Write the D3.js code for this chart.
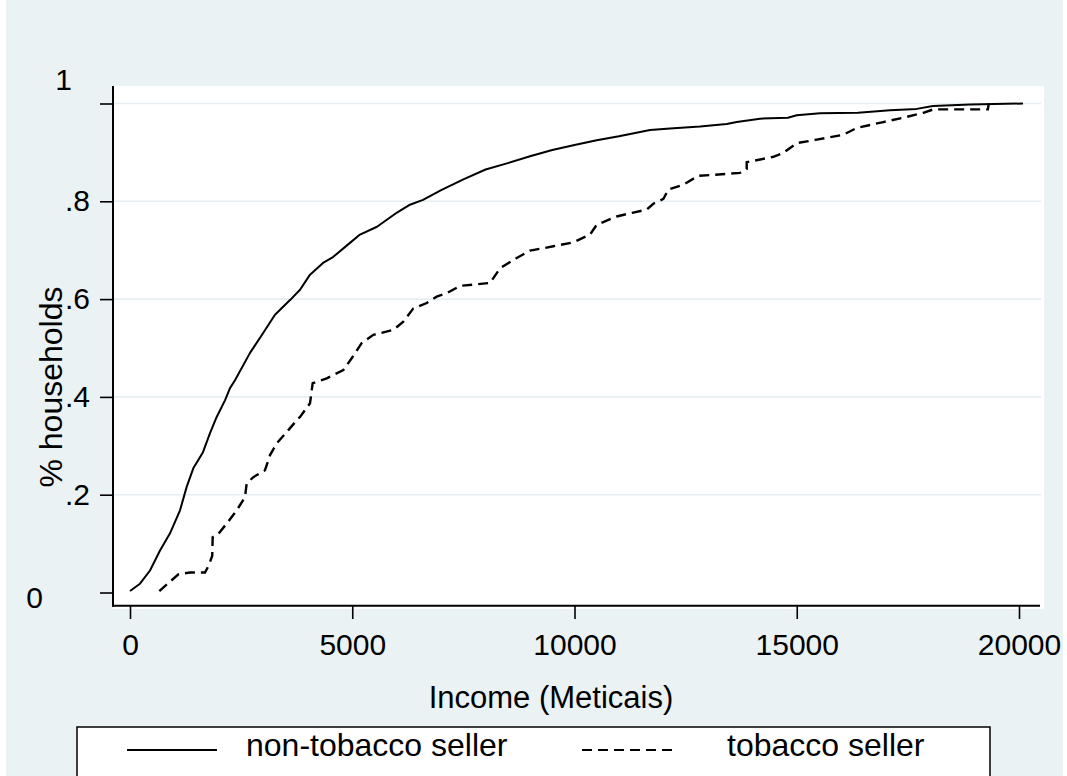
<!DOCTYPE html>
<html>
<head>
<meta charset="utf-8">
<script src="https://cdn.jsdelivr.net/npm/d3@7"></script>
<style>
  html, body { margin: 0; padding: 0; background: #ffffff; }
  svg { display: block; }
  text { font-family: "Liberation Sans", Arial, sans-serif; fill: #000; }
</style>
</head>
<body>
<svg id="chart" width="1067" height="776"></svg>
<script>
// Cumulative share of households by income, two groups
const xTicks = [0, 5000, 10000, 15000, 20000];
const yTicks = [0, 0.2, 0.4, 0.6, 0.8, 1];
const yTickLabels = ["0", ".2", ".4", ".6", ".8", "1"];
const xTitle = "Income (Meticais)";
const yTitle = "% households";
const seriesNames = ["non-tobacco seller", "tobacco seller"];

const nonTobaccoIncome = [0, 225, 450, 675, 900, 1125, 1275, 1424, 1642, 1800, 1950, 2137, 2250, 2362,
  2700, 2970, 3262, 3600, 3825, 4050, 4342, 4567, 4949, 5174, 5557, 6007, 6299, 6592,
  7000, 7500, 8000, 8500, 9000, 9500, 10000, 10500, 11000, 11700, 12150, 12825, 13425,
  13650, 14174, 14800, 15000, 15523, 16378, 17098, 17700, 18065, 18898, 20090];
const nonTobaccoShare = [0.003, 0.018, 0.045, 0.086, 0.121, 0.168, 0.216, 0.254, 0.287, 0.326, 0.359, 0.393, 0.418, 0.434,
  0.49, 0.527, 0.568, 0.598, 0.619, 0.650, 0.674, 0.686, 0.715, 0.732, 0.748, 0.777, 0.793, 0.803,
  0.823, 0.845, 0.865, 0.878, 0.892, 0.905, 0.915, 0.925, 0.933, 0.946, 0.949, 0.953, 0.958,
  0.962, 0.969, 0.971, 0.976, 0.980, 0.981, 0.986, 0.989, 0.995, 0.998, 1.0];

const tobaccoIncome = [660, 1087, 1350, 1687, 1770, 1850, 1860, 1987, 2175, 2400, 2587, 2625, 2775, 3037,
  3150, 3300, 3562, 3787, 3825, 4050, 4110, 4425, 4800, 4987, 5212, 5474, 5924, 6149, 6374,
  6675, 6900, 7125, 7424, 8099, 8324, 8700, 8999, 9524, 9973, 10349, 10499, 10949, 11323,
  11624, 11773, 12000, 12110, 12448, 12785, 13723, 13874, 13874, 14473, 14698, 14999, 15449,
  16047, 16348, 16947, 17397, 17847, 18072, 19300, 19320];
const tobaccoShare = [0.003, 0.037, 0.041, 0.041, 0.055, 0.075, 0.113, 0.120, 0.141, 0.168, 0.195, 0.223, 0.236, 0.25,
  0.281, 0.305, 0.332, 0.356, 0.359, 0.387, 0.428, 0.438, 0.455, 0.479, 0.510, 0.527, 0.537, 0.554, 0.581,
  0.592, 0.605, 0.612, 0.627, 0.633, 0.663, 0.684, 0.699, 0.708, 0.716, 0.732, 0.752, 0.769, 0.777,
  0.783, 0.795, 0.805, 0.824, 0.834, 0.852, 0.858, 0.866, 0.880, 0.891, 0.899, 0.919, 0.926,
  0.936, 0.950, 0.962, 0.971, 0.981, 0.988, 0.988, 1.0];

const W = 1067, H = 776;
const bg = "#eaf2f3";
const svg = d3.select("#chart");

// graph region background
svg.append("rect").attr("x", 6).attr("y", 0).attr("width", 1057).attr("height", H).attr("fill", bg);

// plot region
const plot = { left: 112.5, top: 86, right: 1044, bottom: 609 };
svg.append("rect")
  .attr("x", plot.left).attr("y", plot.top)
  .attr("width", plot.right - plot.left).attr("height", plot.bottom - plot.top)
  .attr("fill", "#ffffff");

const x = d3.scaleLinear().domain([0, 20000]).range([130, 1019]);
const y = d3.scaleLinear().domain([0, 1]).range([592.5, 103.5]);

// horizontal grid lines
svg.append("g")
  .selectAll("line")
  .data(yTicks.filter(d => d > 0))
  .join("line")
  .attr("x1", 113).attr("x2", 1041)
  .attr("y1", d => y(d)).attr("y2", d => y(d))
  .attr("stroke", "#e6eef1").attr("stroke-width", 1.6);

// y axis
const yAxis = d3.axisLeft(y)
  .tickValues(yTicks)
  .tickFormat((d, i) => yTickLabels[i])
  .tickSize(13)
  .tickPadding(10);
const gy = svg.append("g").attr("transform", "translate(113,0)").call(yAxis);
gy.select(".domain").remove();
gy.selectAll(".tick line").attr("stroke", "#000").attr("stroke-width", 1.6);
gy.selectAll(".tick text")
  .attr("font-size", 30)
  .attr("font-family", "Liberation Sans, Arial, sans-serif")
  .attr("fill", "#000");
// end labels sit further out than the rest
gy.selectAll(".tick text").filter(d => d === 1)
  .attr("x", -41).attr("dy", "-0.48em");
gy.selectAll(".tick text").filter(d => d === 0)
  .attr("x", -70).attr("dy", "0.5em");

// x axis
const xAxis = d3.axisBottom(x)
  .tickValues(xTicks)
  .tickFormat(d3.format("d"))
  .tickSize(13)
  .tickPadding(15);
const gx = svg.append("g").attr("transform", "translate(0,606)").call(xAxis);
gx.select(".domain").remove();
gx.selectAll(".tick line").attr("stroke", "#000").attr("stroke-width", 1.6);
gx.selectAll(".tick text")
  .attr("font-size", 30)
  .attr("font-family", "Liberation Sans, Arial, sans-serif")
  .attr("fill", "#000");

// axis lines
svg.append("line").attr("x1", 113).attr("x2", 113).attr("y1", 86).attr("y2", 606.8)
  .attr("stroke", "#000").attr("stroke-width", 2);
svg.append("line").attr("x1", 112).attr("x2", 1040).attr("y1", 605.8).attr("y2", 605.8)
  .attr("stroke", "#000").attr("stroke-width", 2);

// axis titles
svg.append("text")
  .attr("x", 551).attr("y", 708)
  .attr("text-anchor", "middle")
  .attr("font-size", 31)
  .text(xTitle);
svg.append("text")
  .attr("transform", "translate(62,387) rotate(-90)")
  .attr("text-anchor", "middle")
  .attr("font-size", 32)
  .text(yTitle);

// curves
const line = d3.line().x(d => x(d[0])).y(d => y(d[1]));
const solidData = nonTobaccoIncome.map((v, i) => [v, nonTobaccoShare[i]]);
const dashedData = tobaccoIncome.map((v, i) => [v, tobaccoShare[i]]);

svg.append("path")
  .datum(solidData)
  .attr("d", line)
  .attr("fill", "none")
  .attr("stroke", "#000")
  .attr("stroke-width", 2)
  .attr("stroke-linejoin", "round");

svg.append("path")
  .datum(dashedData)
  .attr("d", line)
  .attr("fill", "none")
  .attr("stroke", "#000")
  .attr("stroke-width", 2.4)
  .attr("stroke-dasharray", "10,6");

// legend
const legend = svg.append("g");
legend.append("rect")
  .attr("x", 77).attr("y", 727)
  .attr("width", 913).attr("height", 60)
  .attr("fill", "#ffffff").attr("stroke", "#000").attr("stroke-width", 1.5);
legend.append("line").attr("x1", 127).attr("x2", 217).attr("y1", 750).attr("y2", 750)
  .attr("stroke", "#000").attr("stroke-width", 2);
legend.append("line").attr("x1", 582).attr("x2", 676).attr("y1", 750).attr("y2", 750)
  .attr("stroke", "#000").attr("stroke-width", 2).attr("stroke-dasharray", "10,6");
legend.append("text").attr("x", 246).attr("y", 756).attr("font-size", 32).text(seriesNames[0]);
legend.append("text").attr("x", 727).attr("y", 756).attr("font-size", 32).text(seriesNames[1]);
</script>
</body>
</html>
